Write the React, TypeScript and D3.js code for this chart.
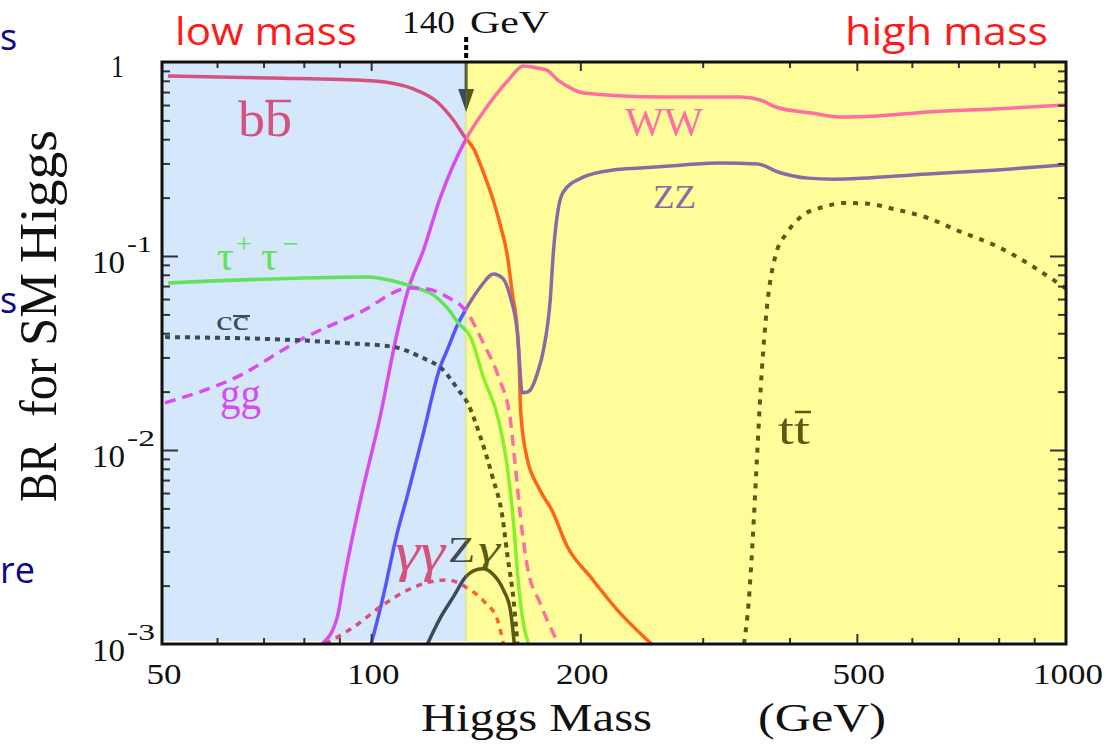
import React, { useEffect, useRef } from "react";
import * as d3 from "d3";

const W = 1108;
const H = 745;
const left = 162;
const right = 1066;
const top = 62;
const bottom = 644;

// Higgs mass (GeV) and branching ratios
const massDomain = [50, 1000];
const brDomain = [0.001, 1];
const splitMass = 137; // low mass / high mass boundary as drawn

const bbMass = [51, 71.5, 100, 115, 124.5, 131.3, 136.7, 140.3, 145, 149.5, 153.4, 157, 159.6, 162.4, 163.4, 164, 166.7, 175, 182, 191.7, 207, 226, 254];
const bbBR = [0.847, 0.827, 0.8, 0.726, 0.622, 0.502, 0.406, 0.36, 0.271, 0.199, 0.1445, 0.101, 0.0645, 0.0401, 0.0268, 0.0167, 0.01, 0.0062, 0.0049, 0.00316, 0.00221, 0.0015, 0.00099];

const wwMass = [85, 89.4, 91.2, 96.5, 103, 109, 113, 118.9, 125.7, 136.7, 145, 157.6, 165.6, 173.5, 179, 185.5, 193.6, 202, 261, 340, 363, 382, 430, 477, 536, 633, 788, 1000];
const wwBR = [0.001, 0.00138, 0.00206, 0.00552, 0.0148, 0.0401, 0.0668, 0.107, 0.199, 0.396, 0.552, 0.808, 0.954, 0.931, 0.909, 0.808, 0.734, 0.692, 0.66, 0.66, 0.637, 0.586, 0.546, 0.52, 0.527, 0.552, 0.573, 0.6];

const zzMass = [100, 103.8, 109, 113, 118.9, 125.7, 128.7, 133.5, 136.7, 143.6, 150, 154.5, 158.6, 162.4, 165, 168.4, 173.5, 177, 181, 183, 184.5, 189, 202, 223, 244, 279, 318, 360, 385, 425, 463, 633, 788, 1000];
const zzBR = [0.001, 0.00169, 0.00373, 0.006, 0.01224, 0.0268, 0.0328, 0.0451, 0.0527, 0.0692, 0.0808, 0.077, 0.0615, 0.0401, 0.0197, 0.02, 0.0249, 0.0328, 0.0593, 0.107, 0.1445, 0.214, 0.255, 0.2776, 0.284, 0.294, 0.302, 0.298, 0.271, 0.252, 0.249, 0.265, 0.277, 0.295];

const tauMass = [51, 98.7, 107.6, 115, 122.9, 128.7, 133.5, 139, 145, 152.5, 157, 160.3, 162.9, 165.6, 168.4];
const tauBR = [0.0726, 0.078, 0.0743, 0.0692, 0.063, 0.054, 0.0451, 0.0382, 0.0238, 0.0143, 0.00817, 0.0042, 0.00206, 0.00128, 0.001];

const ggMass = [50.5, 64.1, 79, 96.5, 113.8, 120.5, 128.7, 137.6, 145, 152.5, 158.6, 161.3, 164, 167.8, 175, 186];
const ggBR = [0.0175, 0.0238, 0.0369, 0.0514, 0.0684, 0.0676, 0.0615, 0.0508, 0.0356, 0.0238, 0.0143, 0.00817, 0.00452, 0.0025, 0.00163, 0.001];

const ccMass = [50.5, 77.3, 91.2, 107.6, 117.7, 127, 133.5, 137.6, 143.6, 149.5, 154.5, 157.2, 160.3, 162.4];
const ccBR = [0.0382, 0.0369, 0.0356, 0.034, 0.0302, 0.0258, 0.0204, 0.0175, 0.0117, 0.00726, 0.00452, 0.0028, 0.00169, 0.001];

const gamMass = [85.9, 94.3, 104, 113, 121.6, 128.7, 137.6, 146, 152, 155];
const gamBR = [0.001, 0.00122, 0.00159, 0.0019, 0.00209, 0.00214, 0.00194, 0.00163, 0.00133, 0.001];

const zgMass = [120.5, 125.7, 131.3, 136.7, 140.3, 144.6, 149.5, 155, 158.6, 160.7];
const zgBR = [0.001, 0.00136, 0.00175, 0.00221, 0.00238, 0.00244, 0.0023, 0.0019, 0.0015, 0.001];

const ttMass = [344, 349.5, 354, 359, 363.5, 369.7, 382, 397.5, 419, 448, 479, 519, 565, 633, 706, 788, 1000];
const ttBR = [0.001, 0.00167, 0.0034, 0.00887, 0.0204, 0.0468, 0.101, 0.133, 0.163, 0.179, 0.1876, 0.186, 0.1747, 0.157, 0.133, 0.114, 0.068];

const xMajor = [100, 200, 500];
const xMinor = [60, 70, 80, 90, 300, 400, 600, 700, 800, 900];
const xTickLabels = [50, 100, 200, 500, 1000];
const yMajor = [0.01, 0.1];
const yMinor = [1e-3, 1e-2, 1e-1].flatMap((d) => [2, 3, 4, 5, 6, 7, 8, 9].map((k) => k * d));
const yExpLabels = [-1, -2, -3];

const x = d3.scaleLog().domain(massDomain).range([left, right]);
const y = d3.scaleLog().domain(brDomain).range([bottom, top]);
const xs = x(splitMass);

const line = d3
  .line<[number, number]>()
  .x((d) => x(d[0]))
  .y((d) => y(d[1]))
  .curve(d3.curveMonotoneX);

const zip = (m: number[], b: number[]) => m.map((v, i) => [v, b[i]] as [number, number]);

const slate = "#3c4b5a";
const olive = "#5a5a14";
const rose = "#d4527d";
const orange = "#ff6419";
const magenta = "#d74bf0";
const pink = "#ff6ea0";

const curves = [
  { key: "bb", pts: zip(bbMass, bbBR), low: rose, high: orange, dash: undefined, w: 3.5 },
  { key: "ww", pts: zip(wwMass, wwBR), low: magenta, high: pink, dash: undefined, w: 3.5 },
  { key: "zz", pts: zip(zzMass, zzBR), low: "#5555ff", high: "#8c69a5", dash: undefined, w: 3.5 },
  { key: "tau", pts: zip(tauMass, tauBR), low: "#64e15a", high: "#87f028", dash: undefined, w: 3.5 },
  { key: "gg", pts: zip(ggMass, ggBR), low: magenta, high: pink, dash: "11 7", w: 3.5 },
  { key: "cc", pts: zip(ccMass, ccBR), low: slate, high: olive, dash: "5 5", w: 4 },
  { key: "gam", pts: zip(gamMass, gamBR), low: rose, high: orange, dash: "6 6", w: 3.5 },
  { key: "zg", pts: zip(zgMass, zgBR), low: slate, high: olive, dash: undefined, w: 3.5 },
  { key: "tt", pts: zip(ttMass, ttBR), low: olive, high: olive, dash: "5 7", w: 4 },
];

const serif = "'Liberation Serif', 'Times New Roman', serif";
const sans = "'Open Sans', 'Liberation Sans', sans-serif";

function T({ x, y, w, size, fill = "#111", family = serif, italic = false, children }: any) {
  return (
    <text
      x={x}
      y={y}
      fontSize={size}
      fontFamily={family}
      fill={fill}
      fontStyle={italic ? "italic" : "normal"}
      textLength={w}
      lengthAdjust="spacingAndGlyphs"
    >
      {children}
    </text>
  );
}

function Arrow({ color }: { color: string }) {
  return (
    <g fill={color}>
      <rect x={xs - 1.5} y={top} width={3} height={30} />
      <polygon points={`${xs - 8},${top + 27} ${xs + 8},${top + 27} ${xs},${top + 50}`} />
    </g>
  );
}

export default function App() {
  const axRef = useRef<SVGGElement>(null);

  useEffect(() => {
    const g = d3.select(axRef.current);
    g.selectAll("*").remove();
    const add = (axis: any, tx: number, ty: number) => {
      const s = g.append("g").attr("transform", `translate(${tx},${ty})`).call(axis);
      s.select(".domain").remove();
      s.selectAll("text").remove();
      s.selectAll("line").attr("stroke", "#333").attr("stroke-width", 2);
    };
    add(d3.axisBottom(x).tickValues(xMinor).tickSize(-6), 0, bottom);
    add(d3.axisBottom(x).tickValues(xMajor).tickSize(-10), 0, bottom);
    add(d3.axisTop(x).tickValues(xMinor).tickSize(-6), 0, top);
    add(d3.axisTop(x).tickValues(xMajor).tickSize(-9), 0, top);
    add(d3.axisLeft(y).tickValues(yMinor).tickSize(-8), left, 0);
    add(d3.axisLeft(y).tickValues(yMajor).tickSize(-16), left, 0);
    add(d3.axisRight(y).tickValues(yMinor).tickSize(-8), right, 0);
    add(d3.axisRight(y).tickValues(yMajor).tickSize(-16), right, 0);
  }, []);

  return (
    <svg
      width={W}
      height={H}
      style={{ position: "absolute", left: 0, top: 0, background: "#fff", display: "block" }}
    >
      <defs>
        <clipPath id="lowSide">
          <rect x={left} y={top - 2} width={xs - left} height={bottom - top + 4} />
        </clipPath>
        <clipPath id="highSide">
          <rect x={xs} y={top - 2} width={right - xs} height={bottom - top + 4} />
        </clipPath>
      </defs>

      {/* slide text fragments at the left edge */}
      <g fill="#0a0a88" fontFamily={sans} fontSize={36}>
        <text x={0} y={50}>s</text>
        <text x={0} y={313}>s</text>
        <text x={0} y={583}>re</text>
      </g>

      {/* shaded regions */}
      <rect x={left} y={top} width={xs - left} height={bottom - 3 - top} fill="#d4e7fb" />
      <rect x={xs} y={top} width={right - xs} height={bottom - 3 - top} fill="#fffd9a" />
      <rect x={xs - 2} y={top} width={3} height={bottom - 3 - top} fill="#dde8b4" />

      {/* curves */}
      <g clipPath="url(#lowSide)" fill="none">
        {curves.map((c) => (
          <path key={c.key} d={line(c.pts) || ""} stroke={c.low} strokeWidth={c.w} strokeDasharray={c.dash} />
        ))}
        <Arrow color={slate} />
        <text x={448} y={562} fontSize={36} fontFamily={serif} fill={slate} textLength={27} lengthAdjust="spacingAndGlyphs">Z</text>
      </g>
      <g clipPath="url(#highSide)" fill="none">
        {curves.map((c) => (
          <path key={c.key} d={line(c.pts) || ""} stroke={c.high} strokeWidth={c.w} strokeDasharray={c.dash} />
        ))}
        <Arrow color={olive} />
        <text x={448} y={562} fontSize={36} fontFamily={serif} fill={olive} textLength={27} lengthAdjust="spacingAndGlyphs">Z</text>
      </g>

      {/* curve labels */}
      <T x={238} y={136} w={54} size={50} fill={rose}>bb</T>
      <line x1={266} x2={291} y1={101} y2={101} stroke={rose} strokeWidth={2.5} />
      <T x={625} y={135} w={78} size={40} fill={pink}>WW</T>
      <T x={653} y={208} w={43} size={34} fill="#8c69a5">ZZ</T>
      <text fontFamily={serif} fill="#64e15a">
        <tspan x={217} y={270} fontSize={42}>τ</tspan>
        <tspan x={236} y={253} fontSize={28}>+</tspan>
        <tspan x={261} y={270} fontSize={42}>τ</tspan>
        <tspan x={283} y={253} fontSize={28}>−</tspan>
      </text>
      <T x={216} y={330} w={33} size={28} fill={slate}>cc</T>
      <line x1={233} x2={250} y1={316} y2={316} stroke={slate} strokeWidth={2} />
      <T x={220} y={409} w={41} size={46} fill={magenta}>gg</T>
      <T x={395} y={570} w={50} size={54} fill={rose} italic>γγ</T>
      <T x={478} y={562} w={22} size={38} fill={olive} italic>γ</T>
      <T x={778} y={444} w={32} size={45} fill={olive}>tt</T>
      <line x1={795} x2={811} y1={412} y2={412} stroke={olive} strokeWidth={2.5} />

      {/* axes */}
      <g ref={axRef} />
      <rect x={left} y={top} width={right - left} height={bottom - top} fill="none" stroke="#111" strokeWidth={3} />
      <line x1={xs} x2={xs} y1={37} y2={top} stroke="#000" strokeWidth={4} strokeDasharray="5 3" />

      {/* tick labels */}
      <T x={111} y={77} w={13} size={31}>1</T>
      {yExpLabels.map((e) => (
        <g key={e}>
          <T x={92} y={y(Math.pow(10, e)) + 17} w={33} size={31}>10</T>
          <T x={127} y={y(Math.pow(10, e)) - 4} w={e === -1 ? 25 : 28} size={24}>{`-${-e}`}</T>
        </g>
      ))}
      {xTickLabels.map((v) => {
        const w = String(v).length * 17.5;
        return (
          <T key={v} x={x(v) + 2 - w / 2} y={684} w={w} size={30}>
            {String(v)}
          </T>
        );
      })}

      {/* titles */}
      <T x={421} y={731} w={231} size={40}>Higgs Mass</T>
      <T x={758} y={731} w={128} size={40}>(GeV)</T>
      <g transform="translate(56,502) scale(1.15,1) rotate(-90)" fontFamily={serif} fontSize={46} fill="#111">
        <text x={0} y={0} textLength={59} lengthAdjust="spacingAndGlyphs">BR</text>
        <text x={85} y={0} textLength={144} lengthAdjust="spacingAndGlyphs">for SM</text>
        <text x={239} y={0} textLength={133} lengthAdjust="spacingAndGlyphs">Higgs</text>
      </g>

      <T x={175} y={45} w={182} size={38} fill="#ff1a1a" family={sans}>low mass</T>
      <T x={845} y={45} w={203} size={38} fill="#ff1a1a" family={sans}>high mass</T>
      <T x={402} y={33} w={53} size={31}>140</T>
      <T x={470} y={33} w={79} size={31}>GeV</T>
    </svg>
  );
}
